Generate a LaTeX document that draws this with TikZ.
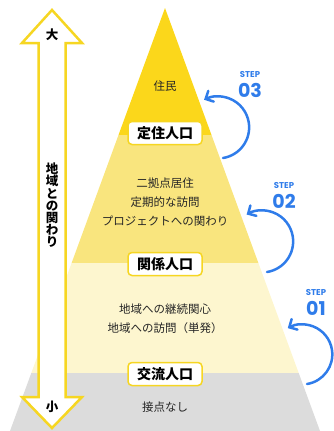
\documentclass[tikz,border=0pt]{standalone}
\usepackage{fontspec}
\newfontfamily\jp{Noto Sans CJK JP}
\newfontfamily\stepfont{Poppins}
\usetikzlibrary{arrows.meta}
\definecolor{gold}{HTML}{FBD71B}
\definecolor{midyellow}{HTML}{F9E57E}
\definecolor{cream}{HTML}{FDF6CF}
\definecolor{lightgrey}{HTML}{DCDCDC}
\definecolor{boxyellow}{HTML}{F6D622}
\definecolor{stepblue}{HTML}{2F7CEA}
\begin{document}
\begin{tikzpicture}[x=1pt, y=-1pt,
		popbox/.style = {draw=boxyellow, fill=white, line width=1.5pt, rounded corners=4pt, inner sep=0pt, minimum width=74pt, minimum height=23pt, font=\jp\bfseries\fontsize{14}{14}\selectfont},
		body/.style = {align=center, text=black!85, font=\jp\fontsize{11.5}{19}\selectfont},
		steplabel/.style = {text=stepblue, inner sep=0pt, font=\stepfont\bfseries\fontsize{8.5}{8.5}\selectfont},
		stepnum/.style = {text=stepblue, inner sep=0pt, font=\stepfont\bfseries\fontsize{19}{19}\selectfont},
		steparrow/.style = {draw=stepblue, line width=2.5pt, line cap=round, -{Straight Barb[length=6pt, width=12pt, line cap=round]}}]
		\useasboundingbox (0,0) rectangle (334,431);
		% Kerrokset
		\fill[gold] (165,8) -- (211.5,135) -- (118.5,135) -- cycle;
		\fill[midyellow] (118.5,135) -- (211.5,135) -- (258.4,263) -- (71.6,263) -- cycle;
		\fill[cream] (71.6,263) -- (258.4,263) -- (298.7,373) -- (31.3,373) -- cycle;
		\fill[lightgrey] (31.3,373) -- (298.7,373) -- (320,431) -- (10,431) -- cycle;
		% Tekstit
		\node[body] (resident) at (165,86) {住民};
		\node[popbox] (teiju) at (165,133) {定住人口};
		\node[body] (kankei text) at (165,202) {二拠点居住\\定期的な訪問\\プロジェクトへの関わり};
		\node[popbox] (kankei) at (165,264) {関係人口};
		\node[body] (koryu text) at (165,318.5) {地域への継続関心\\地域への訪問（単発）};
		\node[popbox] (koryu) at (165,374) {交流人口};
		\node[body] (none) at (165,407) {接点なし};
		% Nuoli
		\filldraw[draw=boxyellow, fill=white, line width=2.5pt, line join=miter]
			(52,10) -- (82,43) -- (65.5,43) -- (65.5,397) -- (82,397) -- (52,428)
			-- (22,397) -- (38.5,397) -- (38.5,43) -- (22,43) -- cycle;
		\node[font=\jp\bfseries\fontsize{12.5}{12.5}\selectfont] (big) at (52,35) {大};
		\node[font=\jp\bfseries\fontsize{12.5}{12.5}\selectfont] (small) at (52,407) {小};
		\node[align=center, inner sep=0pt, font=\jp\bfseries\fontsize{12.5}{12.2}\selectfont] (axis) at (52,205.5) {地\\域\\と\\の\\関\\わ\\り};
		% Askeleet
		\node[steplabel] (step3) at (250,75) {STEP};
		\node[stepnum] (num3) at (250,90) {03};
		\coordinate (s3a) at (223,158);
		\draw[steparrow] (s3a) arc[start angle=81, end angle=-117, radius=31];
		\node[steplabel] (step2) at (284,186) {STEP};
		\node[stepnum] (num2) at (284,201) {02};
		\coordinate (s2a) at (267,272);
		\draw[steparrow] (s2a) arc[start angle=81, end angle=-120, radius=31];
		\node[steplabel] (step1) at (316,293) {STEP};
		\node[stepnum] (num1) at (316,308) {01};
		\coordinate (s1a) at (307,384);
		\draw[steparrow] (s1a) arc[start angle=81, end angle=-119, radius=30];
\end{tikzpicture}
\end{document}
